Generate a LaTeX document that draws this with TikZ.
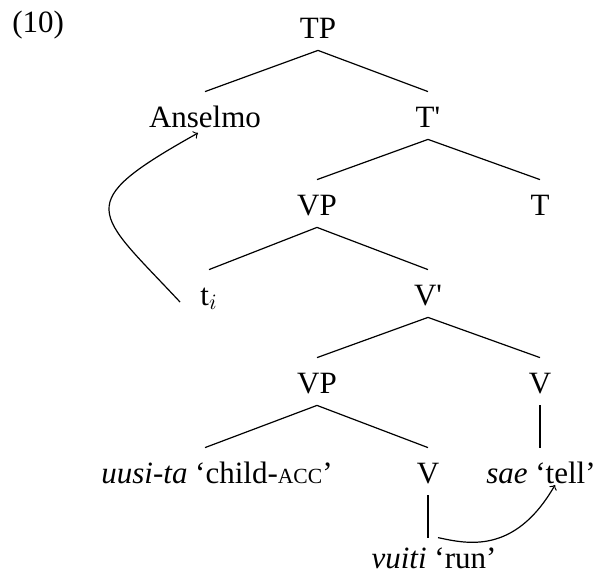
\documentclass[tikz,border=0pt]{standalone}
\usepackage{fontspec}
\setmainfont{Liberation Serif}
\newcommand{\fakesc}[1]{{\fontsize{10.8}{12}\selectfont #1}}
\begin{document}
\begin{tikzpicture}[x=0.5pt,y=-0.5pt,
  lbl/.style={anchor=base, inner sep=0pt, text height=17.5pt, text depth=6pt,
              font=\fontsize{15.5}{18}\selectfont},
  branch/.style={line width=0.6pt},
  move/.style={line width=0.6pt, ->}]
  \useasboundingbox (0,0) rectangle (594,574);

  % example number
  \node[lbl, anchor=base west, text height=0pt, text depth=0pt] (ex) at (12,32) {(10)};

  % tree labels
  \node[lbl] (TP)    at (318,38)  {TP};
  \node[lbl] (Ans)   at (205,127) {Anselmo};
  \node[lbl] (Tbar)  at (428,127) {T\textquotesingle};
  \node[lbl] (VPa)   at (317,215) {VP};
  \node[lbl] (T)     at (540,215) {T};
  \node[lbl] (ti)    at (209,305) {t$_i$};
  \node[lbl] (Vbar)  at (428,305) {V\textquotesingle};
  \node[lbl] (VPb)   at (317,393) {VP};
  \node[lbl] (Vr)    at (540,393) {V};
  \node[lbl] (uusi)  at (217,483) {\textit{uusi-ta} `child-\fakesc{ACC}'};
  \node[lbl] (Vl)    at (428,483) {V};
  \node[lbl] (sae)   at (541,483) {\textit{sae} `tell'};
  \node[lbl, text height=15pt] (vuiti) at (434,568) {\textit{vuiti} `run'};

  % branches
  \draw[branch] (TP.south) -- (Ans.north);
  \draw[branch] (TP.south) -- (Tbar.north);
  \draw[branch] (Tbar.south) -- (VPa.north);
  \draw[branch] (Tbar.south) -- (T.north);
  \draw[branch] (VPa.south) -- (ti.north);
  \draw[branch] (VPa.south) -- (Vbar.north);
  \draw[branch] (Vbar.south) -- (VPb.north);
  \draw[branch] (Vbar.south) -- (Vr.north);
  \draw[branch] (VPb.south) -- ([xshift=-6pt]uusi.north);
  \draw[branch] (VPb.south) -- (Vl.north);
  \draw[branch] (Vr.south) -- (Vr.south |- sae.north);
  \draw[branch] (Vl.south) -- (Vl.south |- vuiti.north);

  % movement arrows
  \draw[move] ([shift={(-10pt,1.5pt)}]ti.base west)
      .. controls (94.5,210.5) and (70.5,204.4) .. ([shift={(-3.5pt,-3pt)}]Ans.base);
  \draw[move] ([shift={(2pt,0pt)}]vuiti.north)
      .. controls (466.6,543.7) and (514.5,555.2) .. ([shift={(7pt,-1pt)}]sae.base);
\end{tikzpicture}
\end{document}
